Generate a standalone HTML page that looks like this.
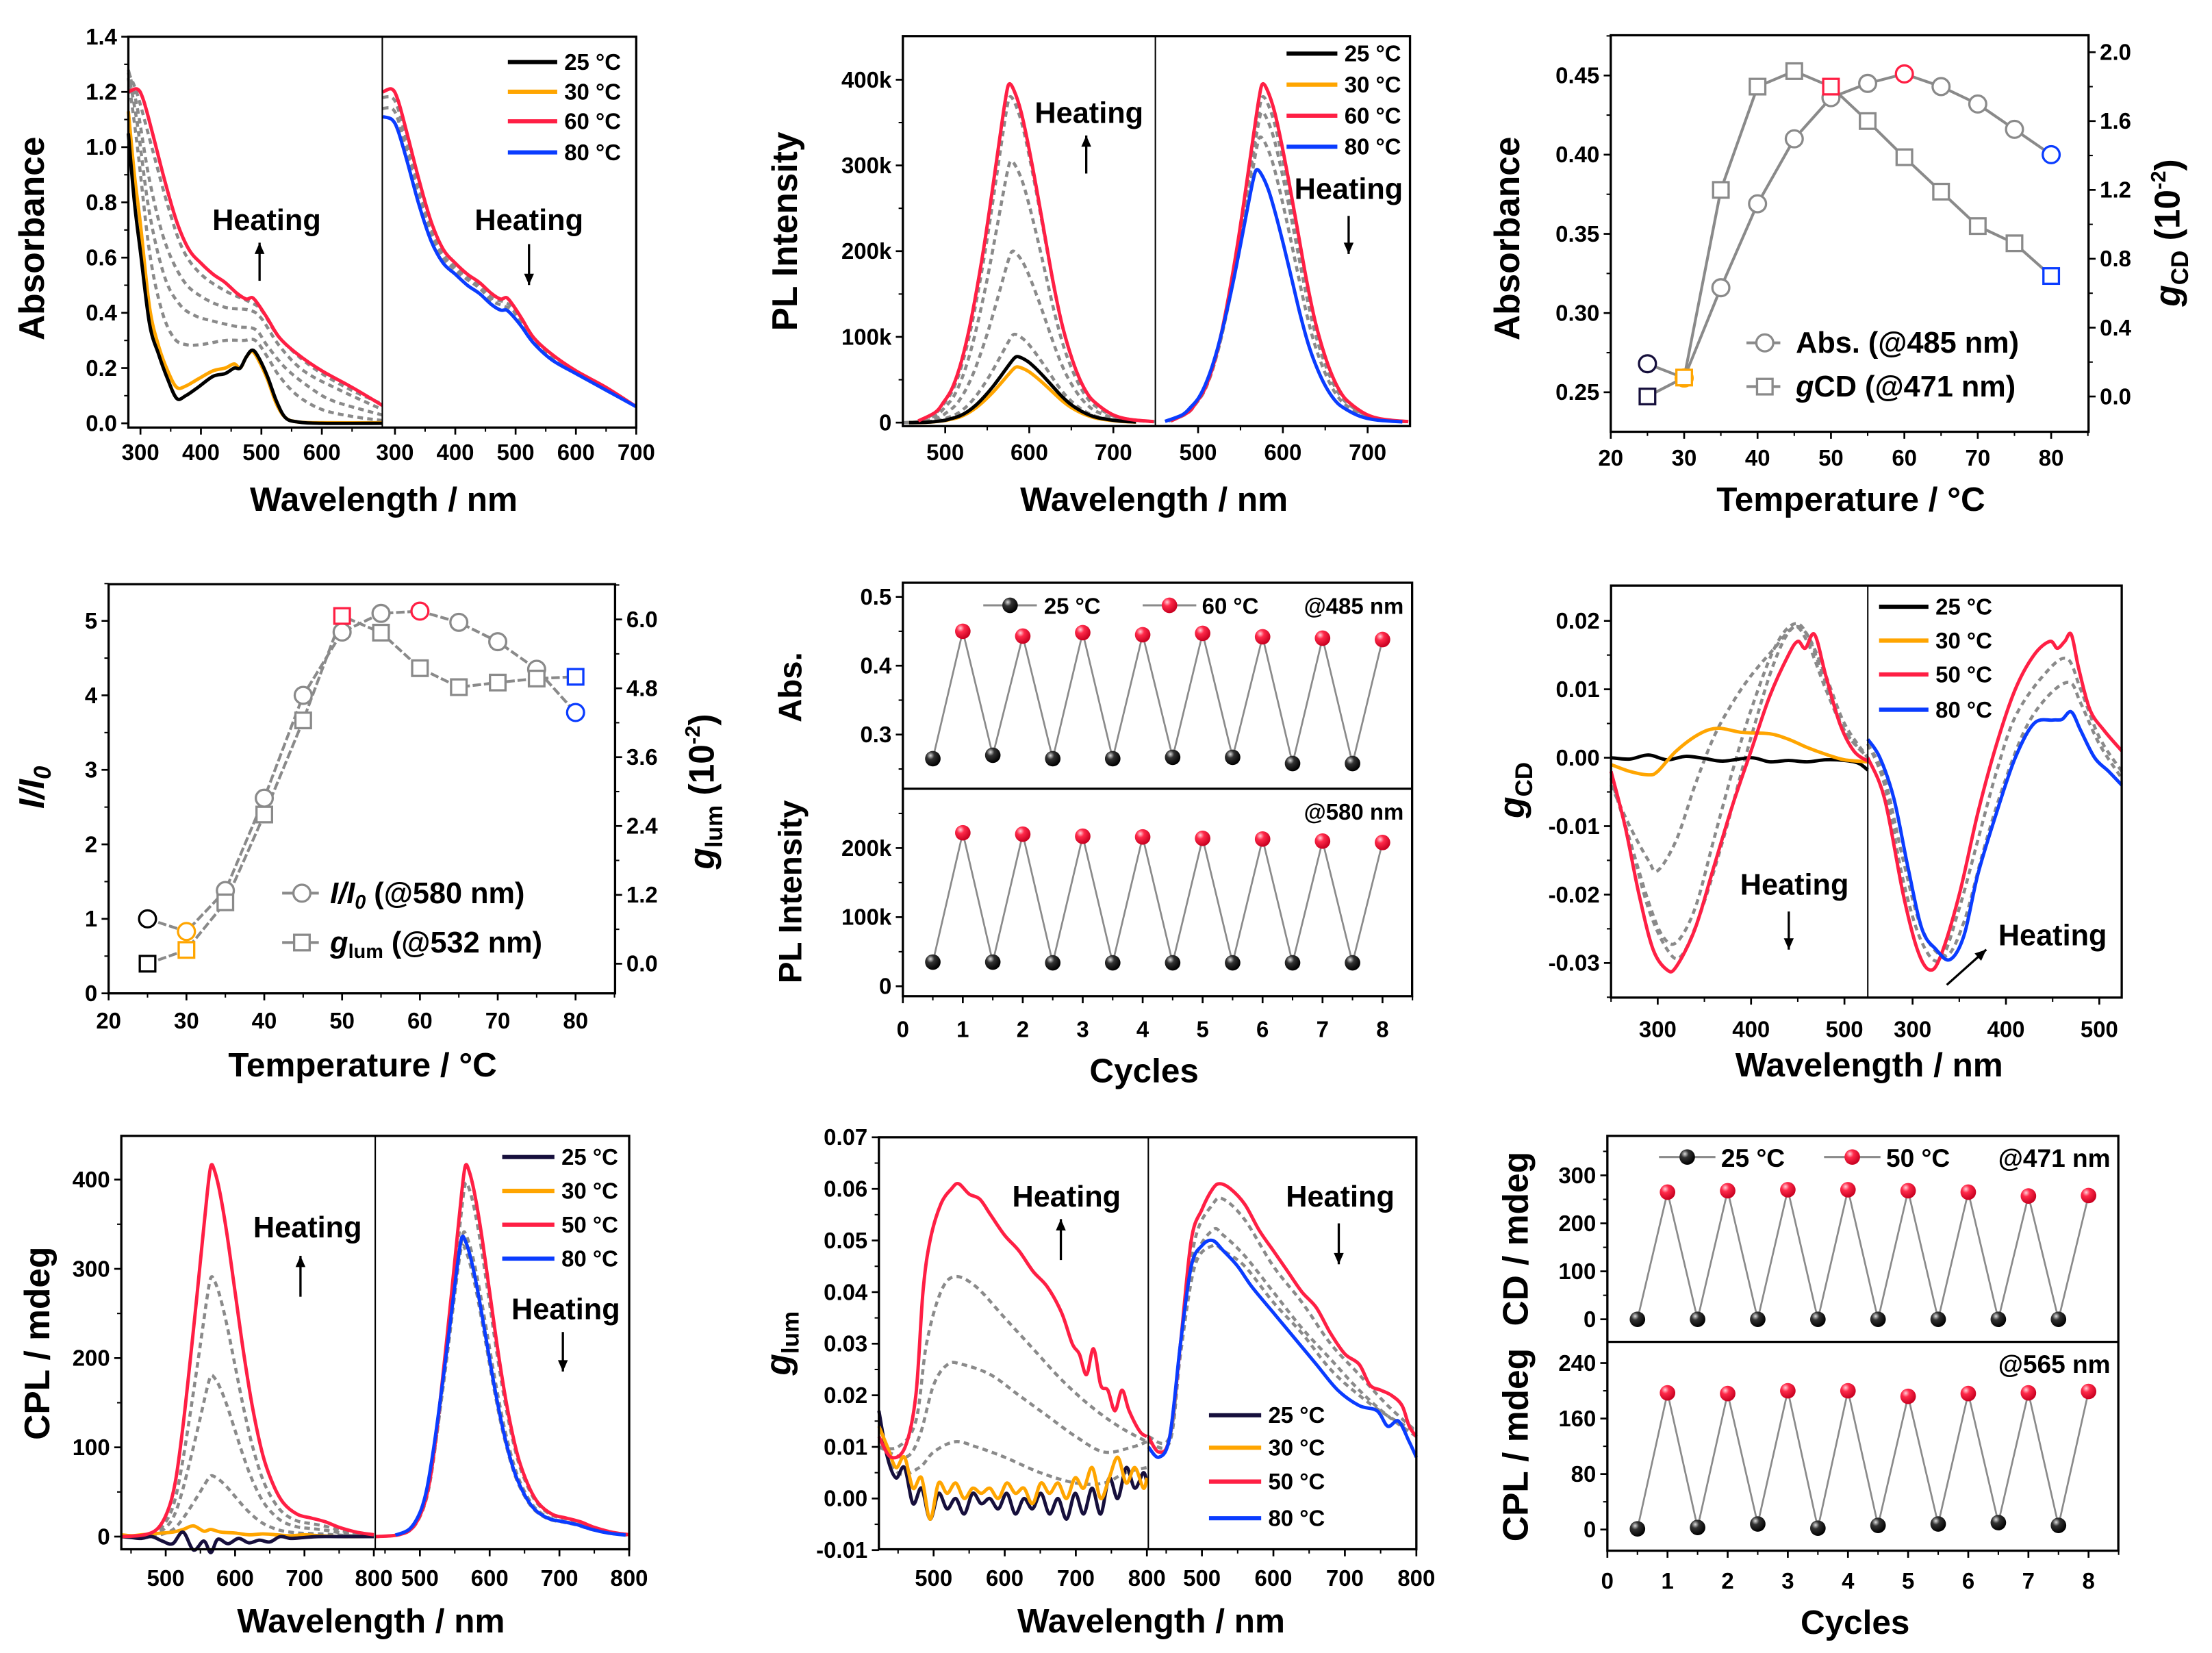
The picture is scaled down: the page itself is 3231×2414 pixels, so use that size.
<!DOCTYPE html>
<html><head><meta charset="utf-8"><style>
html,body{margin:0;padding:0;background:#fff;}
svg{display:block;}
text{font-family:"Liberation Sans Narrow","Liberation Sans",sans-serif;font-weight:bold;fill:#000;}
.t{font-family:"Liberation Sans",sans-serif;}
</style></head><body>
<svg id="fig" xmlns="http://www.w3.org/2000/svg" width="3231" height="2414" viewBox="0 0 1568 1171.5" preserveAspectRatio="none">
<defs>
<radialGradient id="gBlack" cx="0.35" cy="0.3" r="0.7"><stop offset="0" stop-color="#ddd"/><stop offset="0.35" stop-color="#333"/><stop offset="1" stop-color="#000"/></radialGradient>
<radialGradient id="gRed" cx="0.35" cy="0.3" r="0.7"><stop offset="0" stop-color="#ffd0d8"/><stop offset="0.35" stop-color="#ff2a4a"/><stop offset="1" stop-color="#c80020"/></radialGradient>
</defs>
</svg>
<script>
// ===== DATA =====
const absBlack=[280,1.05,290,0.8,300,0.62,315,0.36,330,0.25,345,0.16,360,0.09,375,0.1,395,0.13,420,0.17,440,0.18,455,0.2,465,0.2,475,0.24,485,0.265,495,0.24,510,0.17,525,0.08,540,0.02,560,0.005,600,0,700,0];
const absOrange=[280,1.13,290,0.9,300,0.72,315,0.42,330,0.28,345,0.19,360,0.13,375,0.135,395,0.16,420,0.19,440,0.2,455,0.215,465,0.2,475,0.24,485,0.26,495,0.23,510,0.16,525,0.07,540,0.02,560,0.005,600,0.002,700,0.002];
const absRed=[280,1.2,295,1.21,305,1.17,320,1.05,340,0.88,360,0.73,380,0.63,400,0.58,420,0.54,440,0.51,460,0.47,475,0.45,485,0.455,495,0.43,510,0.38,530,0.31,560,0.25,600,0.19,650,0.13,700,0.065];
const absDashL1=[280,1.25,295,1.0,315,0.62,335,0.41,355,0.31,375,0.285,400,0.285,440,0.3,470,0.3,490,0.3,510,0.24,530,0.17,560,0.1,600,0.05,650,0.025,700,0.01];
const absDashL2=[280,1.27,295,1.08,315,0.76,340,0.53,365,0.43,390,0.39,420,0.37,460,0.35,490,0.34,510,0.28,540,0.2,580,0.13,620,0.08,700,0.03];
const absDashL3=[280,1.28,295,1.14,315,0.88,340,0.66,370,0.52,400,0.46,440,0.42,480,0.41,500,0.38,530,0.28,570,0.19,630,0.12,700,0.05];
const absDashL4=[280,1.27,295,1.19,320,0.99,345,0.79,370,0.63,400,0.54,440,0.48,480,0.44,500,0.41,530,0.31,580,0.21,640,0.13,700,0.07];
const absRedR=[280,1.2,295,1.21,305,1.17,320,1.05,340,0.88,360,0.73,380,0.63,400,0.58,420,0.54,440,0.51,460,0.47,475,0.45,485,0.455,495,0.43,510,0.38,530,0.31,560,0.25,600,0.19,650,0.13,700,0.06];
const absBlueR=[280,1.11,295,1.1,305,1.06,320,0.95,340,0.79,360,0.66,380,0.58,400,0.54,420,0.5,440,0.47,460,0.43,475,0.41,485,0.41,495,0.39,510,0.35,530,0.29,560,0.23,600,0.18,650,0.12,700,0.06];
const absDashR1=[280,1.18,295,1.18,305,1.14,320,1.02,340,0.85,360,0.71,380,0.61,400,0.565,420,0.53,440,0.5,460,0.455,480,0.44,495,0.42,510,0.37,530,0.3,560,0.245,600,0.185,650,0.125,700,0.062];
const absDashR2=[280,1.14,295,1.14,305,1.1,320,0.98,340,0.82,360,0.69,380,0.6,400,0.555,420,0.52,440,0.49,460,0.445,480,0.425,495,0.41,510,0.36,530,0.295,560,0.24,600,0.18,650,0.122,700,0.06];
const absTicksX=[300,400,500,600];
const absTicksXR=[300,400,500,600,700];
const absTicksY=[0,0.2,0.4,0.6,0.8,1.0,1.2,1.4];
const plProfile=[450,0.0,470,0.005,490,0.03,500,0.06,510,0.1,520,0.17,530,0.27,540,0.4,550,0.55,560,0.72,568,0.86,574,0.96,578,1.0,584,0.98,592,0.92,600,0.83,610,0.7,620,0.56,630,0.42,640,0.3,650,0.21,660,0.14,670,0.09,680,0.06,700,0.025,720,0.01,750,0.003];
const plLeftPeaks=[77000,65000,103000,200000,305000,380000,395000];
const plLeftCenters=[585,585,582,580,578,577,576];
const plRightPeaks=[395000,380000,362000,333000,295000];
const plRightCenters=[576,576,575,573,569];
const plTicksY=[0,100000,200000,300000,400000];
const plTickLabels=["0","100k","200k","300k","400k"];
const plTicksX=[500,600,700];
const tempC=[25,30,35,40,45,50,55,60,65,70,75,80];
const absTemp=[0.268,0.259,0.316,0.369,0.410,0.436,0.445,0.451,0.443,0.432,0.416,0.400];
const gcdTemp=[0.0,0.11,1.2,1.8,1.89,1.8,1.6,1.39,1.19,0.99,0.89,0.7];
const cTicksX=[20,30,40,50,60,70,80];
const cTicksY=[0.25,0.30,0.35,0.40,0.45];
const cTicksY2=[0.0,0.4,0.8,1.2,1.6,2.0];
const tempD=[25,30,35,40,45,50,55,60,65,70,75,80];
const iRatio=[1.0,0.83,1.38,2.62,4.0,4.85,5.1,5.13,4.98,4.72,4.35,3.77];
const glumTemp=[0.0,0.24,1.07,2.6,4.24,6.06,5.77,5.15,4.82,4.9,4.97,5.0];
const dTicksY=[0,1,2,3,4,5];
const dTicksY2=[0.0,1.2,2.4,3.6,4.8,6.0];
const cycLow=[0.5,1.5,2.5,3.5,4.5,5.5,6.5,7.5];
const cycHigh=[1,2,3,4,5,6,7,8];
const eAbsLow=[0.265,0.27,0.265,0.265,0.267,0.267,0.258,0.258];
const eAbsHigh=[0.45,0.443,0.448,0.445,0.447,0.442,0.44,0.438];
const ePlLow=[35000,35000,34000,34000,34000,34000,34000,34000];
const ePlHigh=[222000,220000,217000,216000,214000,213000,210000,208000];
const fBlack=[250,0,270,-0.0002,290,0.0004,310,-0.0003,330,0.0002,350,-0.0001,370,-0.0005,400,0.0,420,-0.0006,440,-0.0004,460,-0.0006,480,-0.0003,500,-0.0004,515,-0.0008,525,-0.0018];
const fOrange=[250,-0.001,270,-0.002,290,-0.0025,300,-0.002,320,0.001,345,0.0035,365,0.0043,390,0.0037,420,0.0035,440,0.0027,460,0.0015,480,0.0005,500,-0.0003,525,-0.0006];
const fRed=[250,-0.002,265,-0.01,280,-0.02,295,-0.028,310,-0.031,320,-0.0305,340,-0.025,360,-0.016,380,-0.007,400,0.001,420,0.009,440,0.015,450,0.017,458,0.016,468,0.018,480,0.012,495,0.005,510,0.001,525,-0.0005];
const fDash1=[250,-0.003,270,-0.012,290,-0.022,310,-0.028,325,-0.029,345,-0.023,370,-0.012,400,0.003,425,0.014,445,0.019,460,0.017,480,0.01,500,0.004,525,0.0];
const fDash2=[250,-0.003,270,-0.012,290,-0.021,305,-0.026,320,-0.027,340,-0.022,360,-0.012,380,-0.002,400,0.007,425,0.016,445,0.0195,460,0.018,480,0.011,500,0.004,525,0.0];
const fDash3=[250,-0.004,270,-0.01,290,-0.015,300,-0.0165,320,-0.012,340,-0.004,360,0.003,380,0.008,400,0.012,425,0.016,445,0.019,460,0.018,480,0.012,500,0.005,525,0.0];
const fRedR=[252,0.0,270,-0.006,290,-0.02,305,-0.028,318,-0.031,330,-0.029,350,-0.02,370,-0.008,390,0.002,410,0.01,430,0.015,447,0.017,455,0.016,463,0.017,470,0.018,478,0.013,490,0.007,505,0.004,524,0.001];
const fBlueR=[252,0.0027,265,0.0,280,-0.006,295,-0.016,310,-0.025,325,-0.028,340,-0.0295,355,-0.026,370,-0.017,390,-0.008,410,0.0,430,0.005,450,0.0055,460,0.0056,470,0.0067,480,0.004,495,0.0,510,-0.002,524,-0.004];
const fDashR1=[252,0.002,270,-0.004,290,-0.018,310,-0.027,330,-0.0295,350,-0.022,370,-0.012,390,-0.002,410,0.006,440,0.012,465,0.0145,480,0.01,500,0.003,524,-0.002];
const fDashR2=[252,0.002,270,-0.003,290,-0.015,310,-0.025,335,-0.029,355,-0.024,375,-0.014,395,-0.005,420,0.004,445,0.009,468,0.011,480,0.008,500,0.002,524,-0.003];
const fTicksY=[-0.03,-0.02,-0.01,0.0,0.01,0.02];
const fTickLabels=["-0.03","-0.02","-0.01","0.00","0.01","0.02"];
const fTicksX=[300,400,500];
const cplProfile=[436,0.0,470,0.005,490,0.025,505,0.08,515,0.16,525,0.3,535,0.47,545,0.65,553,0.8,560,0.93,565,1.0,570,0.99,578,0.93,588,0.82,600,0.66,612,0.5,625,0.35,640,0.22,655,0.14,670,0.09,690,0.06,710,0.05,730,0.04,750,0.025,775,0.012,800,0.005];
const cplLeftPeaks=[415,290,180,68];
const cplRightPeaks=[415,395,340,325,335];
const cplRightCenters=[565,565,562,560,560];
const cplBlack=[436,0,450,-1,465,-2,480,0,495,-5,510,-8,525,5,540,-15,555,-5,565,-18,575,-3,590,-8,605,-2,620,-7,635,-4,650,-6,665,0,680,-2,700,-1,720,0,750,0,800,0];
const cplOrange=[436,2,450,1,465,2,480,3,495,4,510,5,525,8,540,12,555,6,565,8,580,5,600,4,620,2,640,3,660,2,680,1,700,2,720,1,750,0,800,0];
const gTicksY=[0,100,200,300,400];
const gTicksX=[500,600,700,800];
const hRed=[423,0.012,440,0.008,460,0.01,475,0.02,485,0.04,495,0.05,510,0.057,525,0.06,535,0.061,550,0.059,565,0.058,580,0.055,600,0.051,620,0.048,640,0.044,660,0.041,680,0.036,695,0.03,705,0.028,715,0.024,725,0.029,735,0.022,745,0.021,755,0.017,765,0.021,775,0.017,790,0.013,800,0.012];
const hDash1=[423,0.01,450,0.01,475,0.015,490,0.03,510,0.04,530,0.043,560,0.041,600,0.035,640,0.029,680,0.023,720,0.018,760,0.014,800,0.011];
const hDash2=[423,0.01,460,0.008,480,0.012,500,0.022,520,0.026,540,0.026,580,0.024,620,0.02,660,0.016,700,0.012,740,0.009,780,0.01,800,0.011];
const hDash3=[423,0.012,450,0.005,480,0.006,500,0.009,530,0.011,560,0.01,600,0.008,650,0.005,700,0.003,740,0.003,770,0.005,800,0.006];
const hBlack=[423,0.017,435,0.008,447,0.004,459,0.006,471,-0.001,483,0.002,495,-0.004,507,0.001,519,-0.002,531,0.0,543,-0.003,555,0.001,567,-0.001,579,0.0,591,-0.002,603,0.001,615,-0.003,627,0.0,639,-0.002,651,0.001,663,-0.003,675,0.0,687,-0.004,699,0.001,711,-0.003,723,0.002,735,-0.003,747,0.004,759,0.0,771,0.006,783,0.002,795,0.005,800,0.003];
const hOrange=[423,0.014,435,0.01,447,0.006,459,0.008,471,0.002,483,0.004,495,-0.004,507,0.003,519,0.001,531,0.003,543,0.0,555,0.002,567,0.001,579,0.002,591,0.0,603,0.003,615,0.001,627,0.002,639,-0.001,651,0.003,663,0.001,675,0.003,687,0.0,699,0.004,711,0.002,723,0.006,735,0.0,747,0.004,759,0.008,771,0.003,783,0.006,795,0.002,800,0.004];
const hRedR=[425,0.012,440,0.009,455,0.012,470,0.03,485,0.05,500,0.056,515,0.06,525,0.061,540,0.06,560,0.057,580,0.052,600,0.048,620,0.044,640,0.04,660,0.037,680,0.032,700,0.028,720,0.026,735,0.022,750,0.021,765,0.02,780,0.018,790,0.014,800,0.012];
const hBlueR=[425,0.01,440,0.008,455,0.012,470,0.03,485,0.045,500,0.049,515,0.05,530,0.048,550,0.045,570,0.041,600,0.036,630,0.031,660,0.026,690,0.021,720,0.018,745,0.017,760,0.014,775,0.015,790,0.011,800,0.008];
const hDashR1=[425,0.012,455,0.012,470,0.03,490,0.05,515,0.057,530,0.058,560,0.054,600,0.045,640,0.038,680,0.03,720,0.024,760,0.018,800,0.013];
const hDashR2=[425,0.011,455,0.011,470,0.028,490,0.046,515,0.052,530,0.051,560,0.047,600,0.04,640,0.033,680,0.027,720,0.021,760,0.016,800,0.012];
const hDashR3=[425,0.011,455,0.011,470,0.028,490,0.045,515,0.049,530,0.048,560,0.045,600,0.038,640,0.032,680,0.025,720,0.02,760,0.016,800,0.013];
const hTicksY=[-0.01,0.0,0.01,0.02,0.03,0.04,0.05,0.06,0.07];
const hTickLabels=["-0.01","0.00","0.01","0.02","0.03","0.04","0.05","0.06","0.07"];
const iCdLow=[0,0,0,0,0,0,0,0];
const iCdHigh=[265,268,270,270,268,265,257,258];
const iCplLow=[1,3,8,2,6,8,10,6];
const iCplHigh=[197,196,200,200,192,196,197,199];

// ===== HELPERS =====
const NS="http://www.w3.org/2000/svg";
const svg=document.getElementById('fig');
const C={black:"#000",orange:"#ffa500",red:"#ff1f44",blue:"#0a3cff",navy:"#160f3c",gray:"#8a8a8a"};
function lin(d0,d1,r0,r1){return v=>r0+(v-d0)*(r1-r0)/(d1-d0);}
function mk(tag,attrs,parent){const e=document.createElementNS(NS,tag);for(const k in attrs)e.setAttribute(k,attrs[k]);(parent||svg).appendChild(e);return e;}
function grp(name){const g=mk('g',{});


return g;}
function txt(g,x,y,s,size,name,opt){opt=opt||{};const t=mk('text',{x:x,y:y,'font-size':size,'text-anchor':opt.anchor||'middle'},g);
if(opt.cls)t.setAttribute('class',opt.cls);
if(opt.rot)t.setAttribute('transform','rotate('+opt.rot+' '+x+' '+y+')');
if(opt.italic)t.setAttribute('font-style','italic');
t.textContent=s;


return t;}
function line(g,x1,y1,x2,y2,sw,col,name){const l=mk('line',{x1:x1,y1:y1,x2:x2,y2:y2,stroke:col||'#000','stroke-width':sw||1.5},g);


return l;}
function box(g,x0,y0,x1,y1,name){const r=mk('rect',{x:x0,y:y0,width:x1-x0,height:y1-y0,fill:'none',stroke:'#000','stroke-width':1.6},g);

}
function xTicks(g,sx,vals,yb,labels,lblY,minorStep,lo,hi){vals.forEach((v,i)=>{line(g,sx(v),yb,sx(v),yb+5,1.3,'#000','x-tick');txt(g,sx(v),lblY,labels?labels[i]:String(v),16,'x-tick-label');});
if(minorStep){for(let v=lo;v<=hi+1e-9;v+=minorStep){line(g,sx(v),yb,sx(v),yb+3,1,'#000','x-minor-tick');}}}
function yTicks(g,sy,vals,xb,labels,side,minorStep,lo,hi){const d=side==='right'?1:-1;vals.forEach((v,i)=>{line(g,xb,sy(v),xb+5*d,sy(v),1.3,'#000','y-tick');txt(g,xb+8*d,sy(v)+5.5,labels?labels[i]:String(v),16,'y-tick-label',{anchor:side==='right'?'start':'end'});});
if(minorStep){for(let v=lo;v<=hi+1e-9;v+=minorStep){line(g,xb,sy(v),xb+3*d,sy(v),1,'#000','y-minor-tick');}}}
function series(g,pts,sx,sy,col,dashed,name,sw){const P=[];for(let i=0;i<pts.length;i+=2)P.push([sx(pts[i]),sy(pts[i+1])]);
let d='M'+P[0][0].toFixed(2)+','+P[0][1].toFixed(2);
for(let i=0;i<P.length-1;i++){const p0=P[Math.max(0,i-1)],p1=P[i],p2=P[i+1],p3=P[Math.min(P.length-1,i+2)];
const c1x=p1[0]+(p2[0]-p0[0])/6,c1y=p1[1]+(p2[1]-p0[1])/6,c2x=p2[0]-(p3[0]-p1[0])/6,c2y=p2[1]-(p3[1]-p1[1])/6;
d+='C'+c1x.toFixed(2)+','+c1y.toFixed(2)+' '+c2x.toFixed(2)+','+c2y.toFixed(2)+' '+p2[0].toFixed(2)+','+p2[1].toFixed(2);}
const p=mk('path',{d:d,fill:'none',stroke:col,'stroke-width':sw||(dashed?2.2:2.4),'stroke-linejoin':'round'},g);
if(dashed)p.setAttribute('stroke-dasharray','4,3');


return p;}
function profileSeries(prof,peak,center,ref,lo,hi){const out=[];for(let i=0;i<prof.length;i+=2){const w=prof[i]+(center-ref);if(w>=lo&&w<=hi)out.push(w,prof[i+1]*peak);}return out;}
function arrow(g,x,y1,y2,name,x2){x2=(x2===undefined)?x:x2;line(g,x,y1,x2,y2,1.6,'#000',name);const ang=Math.atan2(y2-y1,x2-x);const h=8,w=3.5;
const p=mk('polygon',{points:[x2,y2,x2-h*Math.cos(ang)+w*Math.sin(ang),y2-h*Math.sin(ang)-w*Math.cos(ang),x2-h*Math.cos(ang)-w*Math.sin(ang),y2-h*Math.sin(ang)+w*Math.cos(ang)].join(','),fill:'#000'},g);

}
function legendLine(g,x1,x2,y,col,label,name){line(g,x1,y,x2,y,3,col,name+'-swatch');txt(g,x2+5,y+5.5,label,16,name+'-label',{anchor:'start'});}
function ball(g,x,y,fill,name){const c=mk('circle',{cx:x,cy:y,r:5.5,fill:fill},g);

}
function marker(g,kind,x,y,col,name){let e;if(kind==='c')e=mk('circle',{cx:x,cy:y,r:6,fill:'#fff',stroke:col,'stroke-width':1.6},g);else e=mk('rect',{x:x-5.5,y:y-5.5,width:11,height:11,fill:'#fff',stroke:col,'stroke-width':1.6},g);

}

// ===== PANEL A =====
(function(){const g=grp('panel-a-absorbance');
const xa1=lin(280,700,91,271),xa2=lin(279,700,271,451),ya=lin(0,1.4,300,26);
series(g,absDashL1,xa1,ya,C.gray,true,'abs-left-dashed');series(g,absDashL2,xa1,ya,C.gray,true,'abs-left-dashed');series(g,absDashL3,xa1,ya,C.gray,true,'abs-left-dashed');series(g,absDashL4,xa1,ya,C.gray,true,'abs-left-dashed');
series(g,absOrange,xa1,ya,C.orange,false,'abs-30c');series(g,absBlack,xa1,ya,C.black,false,'abs-25c');series(g,absRed,xa1,ya,C.red,false,'abs-60c-left');
series(g,absDashR1,xa2,ya,C.gray,true,'abs-right-dashed');series(g,absDashR2,xa2,ya,C.gray,true,'abs-right-dashed');series(g,absRedR,xa2,ya,C.red,false,'abs-60c-right');series(g,absBlueR,xa2,ya,C.blue,false,'abs-80c');
box(g,91,26,451,303,'plot-frame');line(g,271,26,271,303,1,'#000','panel-divider');
xTicks(g,xa1,absTicksX,303,null,326,50,300,650);xTicks(g,xa2,absTicksXR,303,null,326,50,300,700);
yTicks(g,ya,absTicksY,91,absTicksY.map(v=>v.toFixed(1)),'left',0.1,0,1.4);
txt(g,31,169,'Absorbance',25,'y-axis-title',{rot:-90,cls:'t'});
txt(g,272,362,'Wavelength / nm',24,'x-axis-title',{cls:'t'});
legendLine(g,360,395,44,C.black,'25 °C','legend-25c');legendLine(g,360,395,65,C.orange,'30 °C','legend-30c');legendLine(g,360,395,86,C.red,'60 °C','legend-60c');legendLine(g,360,395,108,C.blue,'80 °C','legend-80c');
txt(g,189,163,'Heating',21,'heating-label');arrow(g,184,199,172,'heating-up-arrow');
txt(g,375,163,'Heating',21,'heating-label');arrow(g,375,173,202,'heating-down-arrow');
})();

// ===== PANEL B =====
(function(){const g=grp('panel-b-pl');
const xb1=lin(449.6,750,640,819),xb2=lin(449.6,750,819,999.5),yb=lin(0,400000,299.5,56.5);
const lc=[C.black,C.orange,C.gray,C.gray,C.gray,C.gray,C.red];const ln=['pl-25c','pl-30c','pl-dashed','pl-dashed','pl-dashed','pl-dashed','pl-60c-left'];
[2,3,4,5,1,0,6].forEach(i=>series(g,profileSeries(plProfile,plLeftPeaks[i],plLeftCenters[i],578,450,750),xb1,yb,lc[i],lc[i]===C.gray,ln[i]));
const rc=[C.red,C.gray,C.gray,C.gray,C.blue];const rn=['pl-60c-right','pl-dashed','pl-dashed','pl-dashed','pl-80c'];
[1,2,3,0,4].forEach(i=>series(g,profileSeries(plProfile,plRightPeaks[i],plRightCenters[i],578,450,750),xb2,yb,rc[i],rc[i]===C.gray,rn[i]));
box(g,640,25.6,999.5,302,'plot-frame');line(g,819,25.6,819,302,1,'#000','panel-divider');
xTicks(g,xb1,plTicksX,302,null,326,50,500,700);xTicks(g,xb2,plTicksX,302,null,326,50,500,700);
yTicks(g,yb,plTicksY,640,plTickLabels,'left',50000,0,400000);
txt(g,565,164,'PL Intensity',25,'y-axis-title',{rot:-90,cls:'t'});
txt(g,818,362,'Wavelength / nm',24,'x-axis-title',{cls:'t'});
legendLine(g,912,948,38,C.black,'25 °C','legend-25c');legendLine(g,912,948,60,C.orange,'30 °C','legend-30c');legendLine(g,912,948,82,C.red,'60 °C','legend-60c');legendLine(g,912,948,104,C.blue,'80 °C','legend-80c');
txt(g,772,87,'Heating',21,'heating-label');arrow(g,770,123,96,'heating-up-arrow');
txt(g,956,141,'Heating',21,'heating-label');arrow(g,956,153,180,'heating-down-arrow');
})();

// ===== PANEL C =====
(function(){const g=grp('panel-c-abs-gcd-temp');
const xc=lin(20,80,1141.8,1454),yc=lin(0.25,0.45,278,53.5),yc2=lin(0,2,281,37);
const colFor=i=>i===0?C.navy:(i===1?C.orange:null);
let d1='',d2='';tempC.forEach((t,i)=>{d1+=(i?'L':'M')+xc(t)+','+yc(absTemp[i]);d2+=(i?'L':'M')+xc(t)+','+yc2(gcdTemp[i]);});
const p1=mk('path',{d:d1,fill:'none',stroke:C.gray,'stroke-width':2},g);


const p2=mk('path',{d:d2,fill:'none',stroke:C.gray,'stroke-width':2},g);


tempC.forEach((t,i)=>{let col=colFor(i)||(t===60?C.red:(t===80?C.blue:C.gray));marker(g,'c',xc(t),yc(absTemp[i]),col,'abs-point');});
tempC.forEach((t,i)=>{let col=colFor(i)||(t===50?C.red:(t===80?C.blue:C.gray));marker(g,'s',xc(t),yc2(gcdTemp[i]),col,'gcd-point');});
box(g,1141.8,25,1480.5,306,'plot-frame');
xTicks(g,xc,cTicksX,306,null,330,5,20,85);
yTicks(g,yc,cTicksY,1141.8,cTicksY.map(v=>v.toFixed(2)),'left',0.025,0.25,0.475);
yTicks(g,yc2,cTicksY2,1480.5,cTicksY2.map(v=>v.toFixed(1)),'right',0.2,0,2.0);
txt(g,1077,169,'Absorbance',25,'y-axis-title',{rot:-90,cls:'t'});
const t2=txt(g,1545,165,'',25,'y2-axis-title',{rot:-90,cls:'t'});
t2.innerHTML='<tspan font-style="italic">g</tspan><tspan font-size="17" dy="6">CD</tspan><tspan dy="-6"> (10</tspan><tspan font-size="15" dy="-10">-2</tspan><tspan dy="10">)</tspan>';
txt(g,1312,362,'Temperature / °C',24,'x-axis-title',{cls:'t'});
line(g,1238,243,1262,243,2,C.gray,'legend-abs-swatch');marker(g,'c',1251,243,C.gray,'legend-abs-marker');txt(g,1273,250,'Abs. (@485 nm)',21,'legend-abs-label',{anchor:'start',cls:'t'});
line(g,1238,274,1262,274,2,C.gray,'legend-gcd-swatch');marker(g,'s',1251,274,C.gray,'legend-gcd-marker');
const lg=txt(g,1273,281,'',21,'legend-gcd-label',{anchor:'start',cls:'t'});lg.innerHTML='<tspan font-style="italic">g</tspan>CD (@471 nm)';
})();

// ===== PANEL D =====
(function(){const g=grp('panel-d-intensity-glum-temp');
const xd=lin(20,80,77,408),yd=lin(0,5,704,440),yd2=lin(0,6,683,439);
let d1='',d2='';tempD.forEach((t,i)=>{d1+=(i?'L':'M')+xd(t)+','+yd(iRatio[i]);d2+=(i?'L':'M')+xd(t)+','+yd2(glumTemp[i]);});
const p1=mk('path',{d:d1,fill:'none',stroke:C.gray,'stroke-width':2,'stroke-dasharray':'6,2'},g);


const p2=mk('path',{d:d2,fill:'none',stroke:C.gray,'stroke-width':2,'stroke-dasharray':'6,2'},g);


tempD.forEach((t,i)=>{let col=i===0?C.black:(i===1?C.orange:(t===60?C.red:(t===80?C.blue:C.gray)));marker(g,'c',xd(t),yd(iRatio[i]),col,'intensity-ratio-point');});
tempD.forEach((t,i)=>{let col=i===0?C.black:(i===1?C.orange:(t===50?C.red:(t===80?C.blue:C.gray)));marker(g,'s',xd(t),yd2(glumTemp[i]),col,'glum-point');});
box(g,77,414,436,704,'plot-frame');
xTicks(g,xd,cTicksX,704,null,729,5,20,85);
yTicks(g,yd,dTicksY,77,null,'left',0.5,0,5.5);
yTicks(g,yd2,dTicksY2,436,dTicksY2.map(v=>v.toFixed(1)),'right',0.6,0,6.6);
const yl=txt(g,31,558,'',25,'y-axis-title',{rot:-90,cls:'t'});yl.innerHTML='<tspan font-style="italic">I/I</tspan><tspan font-style="italic" font-size="17" dy="5">0</tspan>';
const y2=txt(g,506,561,'',25,'y2-axis-title',{rot:-90,cls:'t'});y2.innerHTML='<tspan font-style="italic">g</tspan><tspan font-size="17" dy="6">lum</tspan><tspan dy="-6"> (10</tspan><tspan font-size="15" dy="-10">-2</tspan><tspan dy="10">)</tspan>';
txt(g,257,763,'Temperature / °C',24,'x-axis-title',{cls:'t'});
line(g,200,633,226,633,2,C.gray,'legend-ratio-swatch');marker(g,'c',214,633,C.gray,'legend-ratio-marker');
const l1=txt(g,234,640,'',21,'legend-ratio-label',{anchor:'start',cls:'t'});l1.innerHTML='<tspan font-style="italic">I/I</tspan><tspan font-style="italic" font-size="14" dy="4">0</tspan><tspan dy="-4"> (@580 nm)</tspan>';
line(g,200,668,226,668,2,C.gray,'legend-glum-swatch');marker(g,'s',214,668,C.gray,'legend-glum-marker');
const l2=txt(g,234,675,'',21,'legend-glum-label',{anchor:'start',cls:'t'});l2.innerHTML='<tspan font-style="italic">g</tspan><tspan font-size="14" dy="4">lum</tspan><tspan dy="-4"> (@532 nm)</tspan>';
})();

// ===== PANEL E =====
(function(){const g=grp('panel-e-cycles-abs-pl');
const xe=lin(0,8,640,980),ye1=lin(0.3,0.5,520.6,423),ye2=lin(0,200000,699,601);
function zig(lowV,highV,sy,name){let d='';cycLow.forEach((c,i)=>{d+=(i?'L':'M')+xe(c)+','+sy(lowV[i])+'L'+xe(cycHigh[i])+','+sy(highV[i]);});
const p=mk('path',{d:d,fill:'none',stroke:C.gray,'stroke-width':1.3},g);


cycLow.forEach((c,i)=>ball(g,xe(c),sy(lowV[i]),'url(#gBlack)','low-temp-point'));cycHigh.forEach((c,i)=>ball(g,xe(c),sy(highV[i]),'url(#gRed)','high-temp-point'));}
zig(eAbsLow,eAbsHigh,ye1,'abs-cycle-line');zig(ePlLow,ePlHigh,ye2,'pl-cycle-line');
box(g,640,413,1001,706,'plot-frame');line(g,640,559,1001,559,1.6,'#000','panel-divider');
xTicks(g,xe,[0,1,2,3,4,5,6,7,8],706,null,735,0.5,0,8.5);
yTicks(g,ye1,[0.3,0.4,0.5],640,null,'left',0.05,0.25,0.5);
yTicks(g,ye2,[0,100000,200000],640,['0','100k','200k'],'left',50000,0,250000);
txt(g,568,487,'Abs.',23,'y-axis-title-top',{rot:-90,cls:'t'});
txt(g,568,632,'PL Intensity',23,'y-axis-title-bottom',{rot:-90,cls:'t'});
txt(g,811,767,'Cycles',24,'x-axis-title',{cls:'t'});
line(g,697,429,735,429,1.5,C.gray,'legend-25c-swatch');ball(g,716,429,'url(#gBlack)','legend-25c-marker');txt(g,740,435,'25 °C',16,'legend-25c-label',{anchor:'start'});
line(g,810,429,848,429,1.5,C.gray,'legend-60c-swatch');ball(g,829,429,'url(#gRed)','legend-60c-marker');txt(g,852,435,'60 °C',16,'legend-60c-label',{anchor:'start'});
txt(g,995,435,'@485 nm',16,'wavelength-note-top',{anchor:'end'});
txt(g,995,581,'@580 nm',16,'wavelength-note-bottom',{anchor:'end'});
})();

// ===== PANEL F =====
(function(){const g=grp('panel-f-gcd');
const xf1=lin(250,525,1142,1324),xf2=lin(252,524,1324,1504),yf=lin(0,0.02,537,440);
series(g,fDash1,xf1,yf,C.gray,true,'gcd-left-dashed');series(g,fDash2,xf1,yf,C.gray,true,'gcd-left-dashed');series(g,fDash3,xf1,yf,C.gray,true,'gcd-left-dashed');
series(g,fBlack,xf1,yf,C.black,false,'gcd-25c');series(g,fOrange,xf1,yf,C.orange,false,'gcd-30c');series(g,fRed,xf1,yf,C.red,false,'gcd-50c-left');
series(g,fDashR1,xf2,yf,C.gray,true,'gcd-right-dashed');series(g,fDashR2,xf2,yf,C.gray,true,'gcd-right-dashed');series(g,fRedR,xf2,yf,C.red,false,'gcd-50c-right');series(g,fBlueR,xf2,yf,C.blue,false,'gcd-80c');
box(g,1142,415,1504,707,'plot-frame');line(g,1324,415,1324,707,1,'#000','panel-divider');
xTicks(g,xf1,fTicksX,707,null,735,50,250,500);xTicks(g,xf2,fTicksX,707,null,735,50,300,500);
yTicks(g,yf,fTicksY,1142,fTickLabels,'left',0.005,-0.035,0.02);
const yl=txt(g,1080,560,'',25,'y-axis-title',{rot:-90,cls:'t'});yl.innerHTML='<tspan font-style="italic">g</tspan><tspan font-size="17" dy="6">CD</tspan>';
txt(g,1325,763,'Wavelength / nm',24,'x-axis-title',{cls:'t'});
legendLine(g,1332,1367,430,C.black,'25 °C','legend-25c');legendLine(g,1332,1367,454,C.orange,'30 °C','legend-30c');legendLine(g,1332,1367,478,C.red,'50 °C','legend-50c');legendLine(g,1332,1367,503,C.blue,'80 °C','legend-80c');
txt(g,1272,634,'Heating',21,'heating-label');arrow(g,1268,646,673,'heating-down-arrow');
txt(g,1455,670,'Heating',21,'heating-label');arrow(g,1380,698,673,'heating-diagonal-arrow',1408);
})();

// ===== PANEL G =====
(function(){const g=grp('panel-g-cpl');
const xg1=lin(436,800,86,265),xg2=lin(436,800,266,446),yg=lin(0,400,1089,836);
for(let i=cplLeftPeaks.length-1;i>=1;i--)series(g,profileSeries(cplProfile,cplLeftPeaks[i],565,565,436,800),xg1,yg,C.gray,true,'cpl-left-dashed');
series(g,cplOrange,xg1,yg,C.orange,false,'cpl-30c');series(g,cplBlack,xg1,yg,C.navy,false,'cpl-25c');
series(g,profileSeries(cplProfile,cplLeftPeaks[0],565,565,436,800),xg1,yg,C.red,false,'cpl-50c-left');
[1,2,3].forEach(i=>series(g,profileSeries(cplProfile,cplRightPeaks[i],cplRightCenters[i],565,436,800),xg2,yg,C.gray,true,'cpl-right-dashed'));
series(g,profileSeries(cplProfile,cplRightPeaks[0],cplRightCenters[0],565,436,800),xg2,yg,C.red,false,'cpl-50c-right');
series(g,profileSeries(cplProfile,cplRightPeaks[4],cplRightCenters[4],565,436,800),xg2,yg,C.blue,false,'cpl-80c');
box(g,86,805,446,1098,'plot-frame');line(g,266,805,266,1098,1,'#000','panel-divider');
xTicks(g,xg1,gTicksX,1098,null,1124,50,450,800);xTicks(g,xg2,gTicksX,1098,null,1124,50,450,800);
yTicks(g,yg,gTicksY,86,null,'left',50,0,400);
txt(g,35,952,'CPL / mdeg',25,'y-axis-title',{rot:-90,cls:'t'});
txt(g,263,1157,'Wavelength / nm',24,'x-axis-title',{cls:'t'});
legendLine(g,356,393,820,C.navy,'25 °C','legend-25c');legendLine(g,356,393,844,C.orange,'30 °C','legend-30c');legendLine(g,356,393,868,C.red,'50 °C','legend-50c');legendLine(g,356,393,892,C.blue,'80 °C','legend-80c');
txt(g,218,877,'Heating',21,'heating-label');arrow(g,213,919,890,'heating-up-arrow');
txt(g,401,935,'Heating',21,'heating-label');arrow(g,399,944,972,'heating-down-arrow');
})();

// ===== PANEL H =====
(function(){const g=grp('panel-h-glum');
const xh1=lin(423,800,623,813),xh2=lin(425,800,814,1004),yh=lin(0,0.07,1062,806);
series(g,hDash1,xh1,yh,C.gray,true,'glum-left-dashed');series(g,hDash2,xh1,yh,C.gray,true,'glum-left-dashed');series(g,hDash3,xh1,yh,C.gray,true,'glum-left-dashed');
series(g,hBlack,xh1,yh,C.navy,false,'glum-25c');series(g,hOrange,xh1,yh,C.orange,false,'glum-30c');series(g,hRed,xh1,yh,C.red,false,'glum-50c-left');
series(g,hDashR1,xh2,yh,C.gray,true,'glum-right-dashed');series(g,hDashR2,xh2,yh,C.gray,true,'glum-right-dashed');series(g,hDashR3,xh2,yh,C.gray,true,'glum-right-dashed');
series(g,hRedR,xh2,yh,C.red,false,'glum-50c-right');series(g,hBlueR,xh2,yh,C.blue,false,'glum-80c');
box(g,623,806,1004,1098,'plot-frame');line(g,814,806,814,1098,1,'#000','panel-divider');
xTicks(g,xh1,gTicksX,1098,null,1124,50,450,800);xTicks(g,xh2,gTicksX,1098,null,1124,50,450,800);
yTicks(g,yh,hTicksY,623,hTickLabels,'left',0.005,-0.01,0.07);
const yl=txt(g,560,952,'',25,'y-axis-title',{rot:-90,cls:'t'});yl.innerHTML='<tspan font-style="italic">g</tspan><tspan font-size="17" dy="6">lum</tspan>';
txt(g,816,1157,'Wavelength / nm',24,'x-axis-title',{cls:'t'});
legendLine(g,857,894,1003,C.navy,'25 °C','legend-25c');legendLine(g,857,894,1026,C.orange,'30 °C','legend-30c');legendLine(g,857,894,1050,C.red,'50 °C','legend-50c');legendLine(g,857,894,1076,C.blue,'80 °C','legend-80c');
txt(g,756,855,'Heating',21,'heating-label');arrow(g,752,893,864,'heating-up-arrow');
txt(g,950,855,'Heating',21,'heating-label');arrow(g,949,867,896,'heating-down-arrow');
})();

// ===== PANEL I =====
(function(){const g=grp('panel-i-cycles-cd-cpl');
const xi=lin(0,8,1139.4,1480.5),yi1=lin(0,300,935,833),yi2=lin(0,240,1084,966);
function zig(lowV,highV,sy,name){let d='';cycLow.forEach((c,i)=>{d+=(i?'L':'M')+xi(c)+','+sy(lowV[i])+'L'+xi(cycHigh[i])+','+sy(highV[i]);});
const p=mk('path',{d:d,fill:'none',stroke:C.gray,'stroke-width':1.3},g);


cycLow.forEach((c,i)=>ball(g,xi(c),sy(lowV[i]),'url(#gBlack)','low-temp-point'));cycHigh.forEach((c,i)=>ball(g,xi(c),sy(highV[i]),'url(#gRed)','high-temp-point'));}
zig(iCdLow,iCdHigh,yi1,'cd-cycle-line');zig(iCplLow,iCplHigh,yi2,'cpl-cycle-line');
box(g,1139.4,805,1501.6,1099,'plot-frame');line(g,1139.4,951,1501.6,951,1.6,'#000','panel-divider');
xTicks(g,xi,[0,1,2,3,4,5,6,7,8],1099,null,1126,0.5,0,8.5);
yTicks(g,yi1,[0,100,200,300],1139.4,null,'left',50,0,350);
yTicks(g,yi2,[0,80,160,240],1139.4,null,'left',40,0,240);
txt(g,1083,878,'CD / mdeg',25,'y-axis-title-top',{rot:-90,cls:'t'});
txt(g,1083,1024,'CPL / mdeg',25,'y-axis-title-bottom',{rot:-90,cls:'t'});
txt(g,1315,1158,'Cycles',24,'x-axis-title',{cls:'t'});
line(g,1176,820,1216,820,1.5,C.gray,'legend-25c-swatch');ball(g,1196,820,'url(#gBlack)','legend-25c-marker');txt(g,1220,827,'25 °C',18,'legend-25c-label',{anchor:'start',cls:'t'});
line(g,1293,820,1333,820,1.5,C.gray,'legend-50c-swatch');ball(g,1313,820,'url(#gRed)','legend-50c-marker');txt(g,1337,827,'50 °C',18,'legend-50c-label',{anchor:'start',cls:'t'});
txt(g,1496,827,'@471 nm',18,'wavelength-note-top',{anchor:'end',cls:'t'});
txt(g,1496,973,'@565 nm',18,'wavelength-note-bottom',{anchor:'end',cls:'t'});
})();
</script>
</body></html>
